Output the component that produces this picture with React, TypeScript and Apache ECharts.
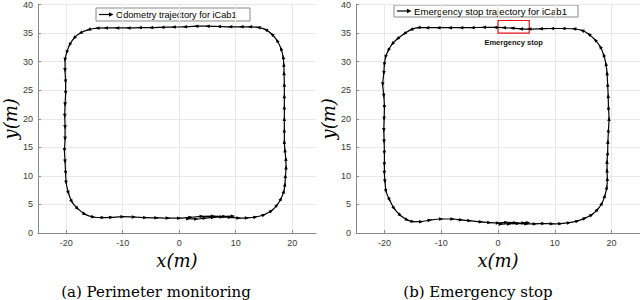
import React, { useEffect, useRef } from "react";
import * as echarts from "echarts";

const xTickValues = [-20, -10, 0, 10, 20];

const odometryPath: [number, number][] = [
  [1.6, 2.5], [3, 2.45], [4.5, 2.6], [6, 2.75], [7.5, 2.8], [9, 2.75], [10.5, 2.6], [12, 2.65],
  [13.5, 2.8], [15, 3.2], [16.3, 3.9], [17.3, 4.9], [18.0, 6.0], [18.5, 7.3], [18.7, 8.5],
  [18.8, 10], [18.9, 11.5], [18.85, 13], [18.7, 14.5], [18.6, 16], [18.6, 18], [18.6, 20],
  [18.6, 22], [18.6, 24], [18.6, 26], [18.55, 28], [18.5, 29.5], [18.4, 30.8], [18.0, 32.3],
  [17.3, 33.7], [16.4, 34.8], [15.3, 35.6], [14, 36.0], [12.5, 36.1], [11, 36.1], [9, 36.1],
  [7, 36.15], [5, 36.2], [3, 36.2], [1, 36.1], [-1, 36.05], [-3, 36.0], [-5, 35.95], [-7, 35.95],
  [-9, 35.9], [-11, 35.9], [-13, 35.9], [-14.5, 35.85], [-16, 35.6], [-17.5, 35.0], [-18.6, 34.1],
  [-19.4, 32.9], [-19.9, 31.6], [-20.2, 30.3], [-20.2, 28.5], [-20.1, 26.5], [-20.1, 24.5],
  [-20.2, 22.5], [-20.25, 20.5], [-20.2, 18.5], [-20.2, 16.5], [-20.3, 14.5], [-20.2, 12.5],
  [-20.1, 10.5], [-20.0, 8.8], [-19.6, 7.0], [-19.0, 5.5], [-18.0, 4.3], [-16.7, 3.3],
  [-15.2, 2.8], [-13.5, 2.7], [-12, 2.75], [-10, 2.85], [-8, 2.8], [-6, 2.7], [-4, 2.65],
  [-2, 2.6], [0, 2.6], [2, 2.75], [4, 2.9], [6, 2.95], [8, 2.9], [9.5, 2.95],
];

const emergencyPath: [number, number][] = [
  [0.5, 1.55], [2, 1.6], [3.5, 1.65], [5, 1.6], [6.5, 1.6], [8, 1.65], [9.5, 1.6], [11, 1.65],
  [12.5, 1.8], [14, 2.1], [15.3, 2.6], [16.5, 3.2], [17.5, 4.1], [18.3, 5.2], [18.8, 6.5],
  [19.15, 8], [19.25, 9.5], [19.2, 11], [19.2, 12.5], [19.3, 14], [19.35, 16], [19.45, 18],
  [19.55, 20], [19.45, 22], [19.4, 24], [19.3, 26], [19.2, 28], [19.0, 29.6], [18.6, 31.2],
  [18.0, 32.6], [17.1, 33.8], [16.0, 34.8], [14.8, 35.45], [13.4, 35.75], [11.5, 35.8],
  [9.5, 35.8], [7.5, 35.75], [5.5, 35.7], [4, 35.75], [2.5, 35.85], [1, 35.95], [-0.5, 36.0],
  [-2.5, 36.0], [-4.5, 35.95], [-6.5, 35.95], [-8.5, 35.95], [-10.5, 35.95], [-12.5, 35.95],
  [-14, 35.95], [-15.3, 35.6], [-16.5, 34.9], [-17.7, 34.0], [-18.6, 33.1], [-19.3, 32.0],
  [-19.8, 30.8], [-20.0, 29.5], [-20.1, 28], [-20.3, 26], [-20.1, 24], [-20.0, 22], [-20.05, 20],
  [-20.1, 18], [-20.05, 16], [-20.0, 14], [-20.0, 12], [-20.0, 10.5], [-19.9, 9], [-19.7, 7.3],
  [-19.1, 5.8], [-18.3, 4.3], [-17.2, 3.1], [-16.0, 2.3], [-15, 2.0], [-13.5, 2.0], [-12, 2.25],
  [-10, 2.45], [-8, 2.45], [-6.5, 2.3], [-5, 2.15], [-3, 1.95], [-1.5, 1.8], [0, 1.75],
  [1.5, 1.85], [3, 1.8], [4.5, 1.75], [5.3, 1.8],
];

const stopBox: [[number, number], [number, number]] = [[0, 35.0], [5.5, 37.2]];

const legendLabels = ["Odometry trajectory for iCab1", "Emergency stop trajectory for iCab1"];
const captions = ["(a) Perimeter monitoring", "(b) Emergency stop"];

function withArrows(path: [number, number][]) {
  return path.map((p, i) => {
    const a = path[Math.max(0, i - 1)];
    const b = path[Math.min(path.length - 1, i + 1)];
    const ang = (Math.atan2(b[1] - a[1], b[0] - a[0]) * 180) / Math.PI;
    return { value: p, symbolRotate: ang - 90 };
  });
}

const tickFont = "Liberation Sans, Arial, sans-serif";
const mathFont = "DejaVu Serif, serif";

function xAxisFor(gridIndex: number, max: number) {
  return {
    type: "value",
    gridIndex,
    min: -25,
    max,
    name: "x(m)",
    nameLocation: "middle",
    nameGap: 12,
    nameTextStyle: { fontFamily: mathFont, fontStyle: "italic", fontSize: 18, color: "#000" },
    axisLine: { show: true, onZero: false, lineStyle: { color: "#8a8a8a", width: 1 } },
    axisTick: { show: true, inside: true, length: 3, customValues: xTickValues, lineStyle: { color: "#8a8a8a" } },
    axisLabel: { customValues: xTickValues, color: "#3a3a3a", fontSize: 9, fontFamily: tickFont, margin: 5 },
    splitLine: { show: true, lineStyle: { color: "#e8e8e8", width: 1 } },
  };
}

function yAxisFor(gridIndex: number) {
  return {
    type: "value",
    gridIndex,
    min: 0,
    max: 40,
    interval: 5,
    name: "y(m)",
    nameLocation: "middle",
    nameRotate: 90,
    nameGap: 14,
    nameTextStyle: { fontFamily: mathFont, fontStyle: "italic", fontSize: 18, color: "#000" },
    axisLine: { show: true, onZero: false, lineStyle: { color: "#8a8a8a", width: 1 } },
    axisTick: { show: true, inside: true, length: 3, lineStyle: { color: "#8a8a8a" } },
    axisLabel: { color: "#3a3a3a", fontSize: 9, fontFamily: tickFont, margin: 5 },
    splitLine: { show: true, lineStyle: { color: "#e8e8e8", width: 1 } },
  };
}

function trajSeries(i: number, path: [number, number][], extra: any = {}) {
  return {
    type: "line",
    xAxisIndex: i,
    yAxisIndex: i,
    data: withArrows(path),
    smooth: 0.3,
    symbol: "triangle",
    symbolSize: [3.5, 4.5],
    showSymbol: true,
    lineStyle: { color: "#000", width: 1.2 },
    itemStyle: { color: "#000" },
    z: 3,
    ...extra,
  };
}

function legendBox(x: number, y: number, w: number, h: number, label: string, fontSize: number) {
  const cy = y + h / 2;
  return {
    type: "group",
    z: 100,
    children: [
      { type: "rect", shape: { x, y, width: w, height: h }, style: { fill: "#fff", stroke: "#8a8a8a", lineWidth: 1 } },
      { type: "line", shape: { x1: x + 3, y1: cy, x2: x + 14, y2: cy }, style: { stroke: "#000", lineWidth: 1.2 } },
      { type: "polygon", shape: { points: [[x + 13, cy - 2.2], [x + 17.5, cy], [x + 13, cy + 2.2]] }, style: { fill: "#000" } },
      { type: "text", x: x + 20, y: cy + 0.5, style: { text: label, fontSize, fontFamily: tickFont, fill: "#000", verticalAlign: "middle", align: "left" } },
    ],
  };
}

export default function App() {
  const ref = useRef<HTMLDivElement>(null);
  useEffect(() => {
    document.body.style.margin = "0";
    if (!ref.current) return;
    const chart = echarts.init(ref.current, undefined, { renderer: "svg" });
    chart.setOption({
      animation: false,
      backgroundColor: "#fff",
      grid: [
        { left: 36, top: 4, width: 280, height: 229 },
        { left: 356, top: 4, width: 284, height: 229 },
      ],
      xAxis: [xAxisFor(0, 24.2), xAxisFor(1, 25)],
      yAxis: [yAxisFor(0), yAxisFor(1)],
      series: [
        trajSeries(0, odometryPath),
        trajSeries(1, emergencyPath, {
          markArea: {
            silent: true,
            itemStyle: { color: "rgba(0,0,0,0)", borderColor: "#e8141b", borderWidth: 1.2 },
            label: {
              show: true,
              position: "bottom",
              distance: 5,
              formatter: "Emergency stop",
              fontSize: 7.5,
              fontWeight: "bold",
              fontFamily: tickFont,
              color: "#111",
            },
            data: [[{ coord: stopBox[0] }, { coord: stopBox[1] }]],
          },
        }),
      ],
      graphic: [
        legendBox(96, 8, 154, 13, legendLabels[0], 9.2),
        legendBox(394, 5, 184, 12, legendLabels[1], 9.6),
        { type: "text", x: 156, y: 292, style: { text: captions[0], fontSize: 15, fontFamily: mathFont, fill: "#000", align: "center", verticalAlign: "middle" } },
        { type: "text", x: 478, y: 292, style: { text: captions[1], fontSize: 15, fontFamily: mathFont, fill: "#000", align: "center", verticalAlign: "middle" } },
      ],
    });
    return () => chart.dispose();
  }, []);
  return <div ref={ref} style={{ width: 640, height: 300 }} />;
}
